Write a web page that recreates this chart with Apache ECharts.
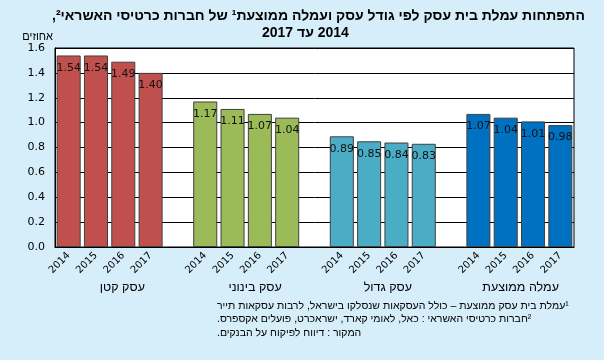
<!DOCTYPE html>
<html><head><meta charset="utf-8">
<script src="https://cdn.jsdelivr.net/npm/echarts@6/dist/echarts.min.js"></script>
<style>html,body{margin:0;padding:0;background:#D5EEF9;}#c{width:604px;height:360px;}</style>
</head><body><div id="c"></div>
<script>
// ---- data ----
const years = ['2014', '2015', '2016', '2017'];
const groups = ['עסק קטן', 'עסק בינוני', 'עסק גדול', 'עמלה ממוצעת'];
const smallBiz = [1.54, 1.54, 1.49, 1.40];
const mediumBiz = [1.17, 1.11, 1.07, 1.04];
const largeBiz = [0.89, 0.85, 0.84, 0.83];
const avgFee = [1.07, 1.04, 1.01, 0.98];
const yTicks = [0, 0.2, 0.4, 0.6, 0.8, 1.0, 1.2, 1.4, 1.6];
const titleLine1 = 'התפתחות עמלת בית עסק לפי גודל עסק ועמלה ממוצעת¹ של חברות כרטיסי האשראי²,';
const titleLine2 = '2014 עד 2017';
const yName = 'אחוזים';
const notes = [
  '¹עמלת בית עסק ממוצעת – כולל העסקאות שנסלקו בישראל, לרבות עסקאות תייר',
  '²חברות כרטיסי האשראי : כאל, לאומי קארד, ישראכרט, פועלים אקספרס.',
  'המקור : דיווח לפיקוח על הבנקים.'
];

// ---- styling ----
const colors = ['#C0504D', '#9BBB59', '#4BACC6', '#0070C0'];
// right-to-left embedding so Hebrew lines are laid out as Hebrew text
const rtl = s => '\u202B' + s + '\u202C';

const series = [smallBiz, mediumBiz, largeBiz, avgFee];
const cats = [];
const data = [];
series.forEach((vals, g) => {
  vals.forEach((v, i) => {
    cats.push(years[i]);
    data.push({ value: v, itemStyle: { color: colors[g] } });
  });
  if (g < series.length - 1) { cats.push(''); data.push(null); }
});

const titleStyle = { fontFamily: 'Liberation Sans', fontWeight: 'bold', fontSize: 14, color: '#000' };
const chart = echarts.init(document.getElementById('c'), null, { renderer: 'canvas' });
chart.setOption({
  backgroundColor: '#D5EEF9',
  animation: false,
  title: [
    { text: rtl(titleLine1), left: 52, top: 9, textStyle: titleStyle, padding: 0 },
    { text: rtl(titleLine2), left: 262, top: 26, textStyle: titleStyle, padding: 0 },
    { text: notes.map(rtl).join('\n'), left: 217, top: 299,
      textStyle: { fontFamily: 'Liberation Sans', fontWeight: 'normal', fontSize: 10.5, lineHeight: 13.5, color: '#000' }, padding: 0 }
  ],
  grid: [
    { left: 55, right: 30, top: 48, bottom: 113, show: true, backgroundColor: '#fff', borderColor: '#000', borderWidth: 1, containLabel: false },
    { left: 56, right: 17, top: 48, bottom: 113, show: false }
  ],
  xAxis: [
    {
      type: 'category', data: cats, gridIndex: 0,
      axisLine: { lineStyle: { color: '#000', width: 1 } },
      axisTick: { show: false },
      axisLabel: { interval: 0, rotate: 45, margin: 7, fontFamily: 'DejaVu Sans', fontSize: 10, color: '#000' }
    },
    {
      type: 'category', data: groups, gridIndex: 1,
      axisLine: { show: false }, axisTick: { show: false },
      axisLabel: { interval: 0, margin: 34, formatter: v => rtl(v), fontFamily: 'Liberation Sans', fontSize: 12.5, color: '#000' }
    }
  ],
  yAxis: [
    {
      type: 'value', gridIndex: 0, min: yTicks[0], max: yTicks[yTicks.length - 1], interval: 0.2,
      name: yName, nameLocation: 'end', nameGap: 5,
      nameTextStyle: { fontFamily: 'Liberation Sans', fontSize: 11, color: '#000', align: 'right', padding: [0, 2, 0, 0] },
      axisLine: { show: true, lineStyle: { color: '#000', width: 1 } },
      axisTick: { show: false },
      splitLine: { lineStyle: { color: '#000', width: 1 } },
      axisLabel: { formatter: v => v.toFixed(1), margin: 10, fontFamily: 'DejaVu Sans', fontSize: 11, color: '#000' }
    },
    { type: 'value', gridIndex: 1, show: false, min: 0, max: 1.6 }
  ],
  series: [{
    type: 'bar', xAxisIndex: 0, yAxisIndex: 0, data: data,
    barCategoryGap: '12%',
    itemStyle: { borderColor: '#404040', borderWidth: 1 },
    label: { show: true, position: 'insideTop', distance: 7, formatter: p => p.value.toFixed(2), fontFamily: 'DejaVu Sans', fontSize: 11, color: '#111' }
  }]
});
</script></body></html>
